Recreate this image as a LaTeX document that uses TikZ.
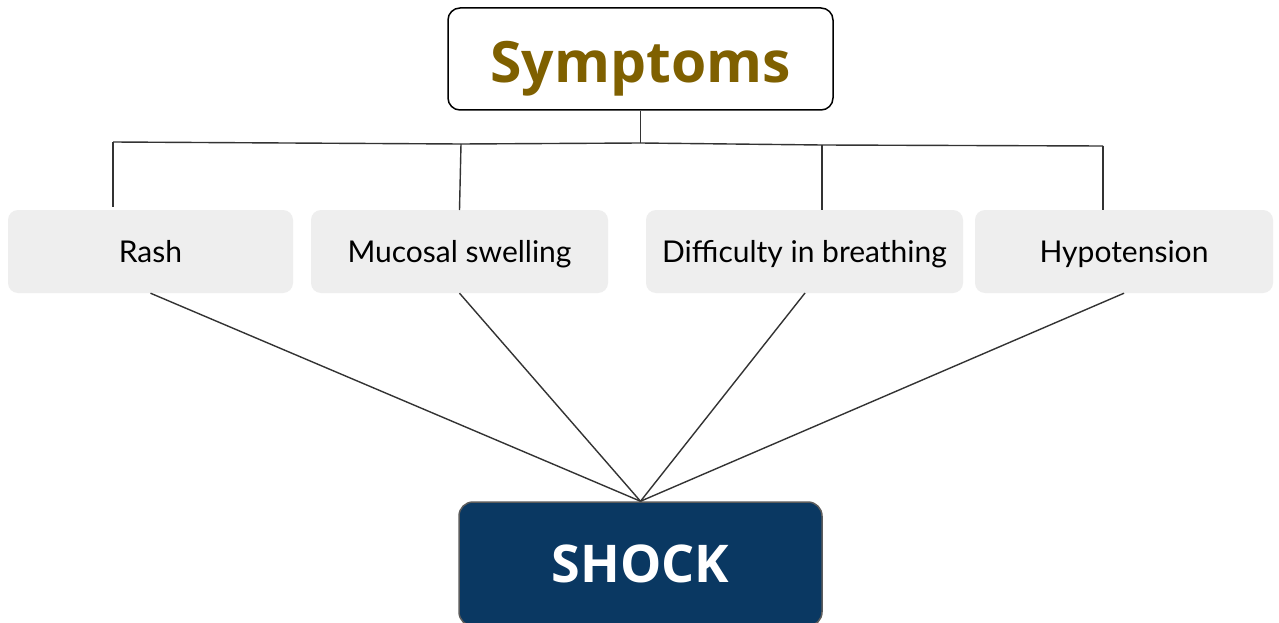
\documentclass[tikz,border=0pt]{standalone}
\usepackage{fontspec}
\setmainfont{Lato}
\newfontfamily\titlefont{Open Sans}
\definecolor{olivetxt}{HTML}{7F6000}
\definecolor{navy}{HTML}{0A3862}
\definecolor{boxgray}{HTML}{EEEEEE}
\definecolor{linegray}{HTML}{333333}
\begin{document}
\begin{tikzpicture}[x=1pt,y=-1pt,
  symbox/.style={draw=black,line width=1.5pt,rounded corners=12pt,fill=white,
    minimum width=385pt,minimum height=102pt,inner sep=0pt,text height=48pt,text depth=0pt,
    font=\titlefont\bfseries\fontsize{57}{64}\selectfont,text=olivetxt},
  itembox/.style={fill=boxgray,rounded corners=10pt,minimum height=83pt,inner sep=0pt,
    text height=22pt,text depth=0pt,
    font=\fontsize{30}{34}\selectfont,text=black},
  shockbox/.style={draw=linegray!80,line width=1.5pt,rounded corners=14pt,fill=navy,
    minimum width=363pt,minimum height=124pt,inner sep=0pt,text height=37pt,text depth=0pt,
    font=\titlefont\bfseries\fontsize{52}{60}\selectfont,text=white},
  conn/.style={draw=linegray,line width=1.4pt}]
\useasboundingbox (0,0) rectangle (1279,623);
\clip (0,0) rectangle (1279,623);
\fill[white] (0,0) rectangle (1279,623);
\node[symbox] (sym) at (640.5,59) {Symptoms};
\node[itembox,minimum width=285pt] (rash) at (150.5,251.5) {Rash};
\node[itembox,minimum width=297pt] (muc) at (459.5,251.5) {Mucosal swelling};
\node[itembox,minimum width=317pt] (dif) at (804.5,251.5) {Difficulty in breathing};
\node[itembox,minimum width=298pt] (hyp) at (1124,251.5) {Hypotension};
\node[shockbox] (shock) at (640.5,564) {SHOCK};
\coordinate (j0) at (640.5,143);
\coordinate (j1) at (113,142);
\coordinate (j2) at (461,144);
\coordinate (j3) at (822,145);
\coordinate (j4) at (1103,146);
\coordinate (e1) at (113,207);
\coordinate (e2) at (459.5,210);
\coordinate (e3) at (822,210);
\coordinate (e4) at (1103,210);
\draw[conn] (sym.south) -- (j0);
\draw[conn] (j1) -- (j2) -- (j0) -- (j3) -- (j4);
\draw[conn] (j1) -- (e1);
\draw[conn] (j2) -- (e2);
\draw[conn] (j3) -- (e3);
\draw[conn] (j4) -- (e4);
\draw[conn] (rash.south) -- (shock.north);
\draw[conn] (muc.south) -- (shock.north);
\draw[conn] (805,293) -- (shock.north);
\draw[conn] (hyp.south) -- (shock.north);
\end{tikzpicture}
\end{document}
